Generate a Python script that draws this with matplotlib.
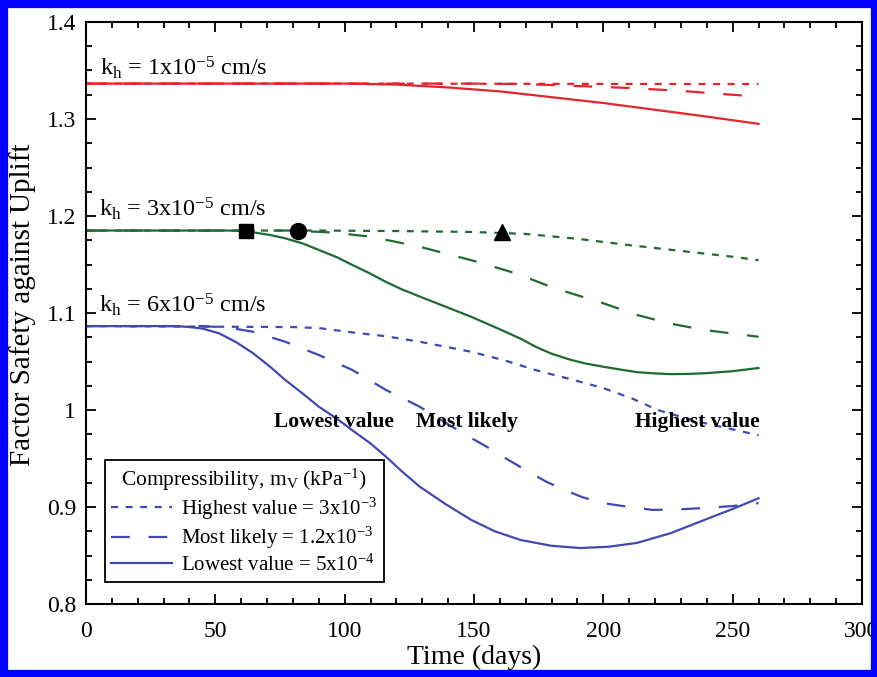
import matplotlib
matplotlib.use("Agg")
import matplotlib.pyplot as plt
from matplotlib.patches import Rectangle
from matplotlib.ticker import MultipleLocator, FuncFormatter

plt.rcParams['font.family'] = ['Liberation Serif', 'DejaVu Serif']
plt.rcParams['mathtext.fontset'] = 'custom'
plt.rcParams['mathtext.rm'] = 'Liberation Serif'
plt.rcParams['mathtext.it'] = 'Liberation Serif:italic'
plt.rcParams['mathtext.bf'] = 'Liberation Serif:bold'
plt.rcParams['lines.scale_dashes'] = False

# ---------------- data ----------------
# kh = 1x10-5 cm/s (red)
red_dot_t = [0, 100, 200, 260]
red_dot_y = [1.3365, 1.3365, 1.3362, 1.336]
red_dash_t = [0, 150, 170, 190, 210, 230, 250, 260]
red_dash_y = [1.3365, 1.3365, 1.336, 1.334, 1.332, 1.329, 1.325, 1.323]
red_solid_t = [0, 100, 120, 140, 160, 180, 200, 220, 240, 260]
red_solid_y = [1.3365, 1.3365, 1.3355, 1.3325, 1.3285, 1.3225, 1.3165, 1.3095, 1.3025, 1.295]

# kh = 3x10-5 cm/s (green)
green_dot_t = [0, 90, 120, 150, 170, 190, 210, 230, 250, 260]
green_dot_y = [1.185, 1.185, 1.1845, 1.1835, 1.1815, 1.1765, 1.170, 1.164, 1.158, 1.1545]
green_dash_t = [0, 80, 95, 110, 129, 151, 166, 181, 200, 213, 226, 239, 260]
green_dash_y = [1.185, 1.185, 1.183, 1.1787, 1.1683, 1.153, 1.141, 1.1257, 1.110, 1.098, 1.089,
                1.0825, 1.0755]
green_solid_t = [0, 55, 60, 65, 71, 77, 84, 90, 97, 103, 110, 116, 122, 129, 139, 149, 155, 161,
                 168, 174, 180, 187, 193, 200, 207, 213, 220, 226, 233, 240, 250, 260]
green_solid_y = [1.185, 1.185, 1.1847, 1.183, 1.1805, 1.177, 1.1715, 1.165, 1.1575, 1.1495, 1.1405,
                 1.132, 1.1245, 1.117, 1.1065, 1.096, 1.089, 1.082, 1.0735, 1.065, 1.058, 1.052,
                 1.048, 1.0446, 1.0415, 1.039, 1.0377, 1.037, 1.0372, 1.038, 1.040, 1.0433]

# kh = 6x10-5 cm/s (blue)
blue_dot_t = [0, 80, 90, 103, 116, 129, 149, 162, 174, 187, 200, 211, 221, 230, 239, 250, 260]
blue_dot_y = [1.0865, 1.0855, 1.0845, 1.080, 1.076, 1.0704, 1.060, 1.051, 1.041, 1.032, 1.0226,
              1.012, 1.0, 0.993, 0.9866, 0.980, 0.974]
blue_dash_t = [0, 45, 55, 64.5, 77, 90, 103, 116, 129, 138, 147, 155, 163, 171, 178, 185, 192, 200,
               210, 219, 229, 239, 250, 260]
blue_dash_y = [1.0865, 1.0865, 1.085, 1.0807, 1.0704, 1.0567, 1.0412, 1.0206, 1.0034, 0.9885, 0.974,
               0.962, 0.949, 0.9364, 0.926, 0.9175, 0.910, 0.904, 0.900, 0.897, 0.8975, 0.899, 0.901,
               0.904]
blue_solid_t = [0, 35, 40, 45, 51.5, 58, 64.5, 71, 77, 84, 90, 97, 103, 110, 116, 122, 129, 139, 149,
                158, 168, 180, 191, 202, 213, 226, 239, 250, 260]
blue_solid_y = [1.0865, 1.0865, 1.0855, 1.084, 1.079, 1.070, 1.0587, 1.045, 1.031, 1.0165, 1.0034,
                0.991, 0.979, 0.9655, 0.9518, 0.937, 0.921, 0.903, 0.8866, 0.875, 0.866, 0.860,
                0.8577, 0.859, 0.863, 0.873, 0.8866, 0.898, 0.909]

# markers on green curves
marker_t = [62, 82, 161]
marker_y = [1.185, 1.185, 1.183]
marker_shapes = ['s', 'o', '^']

kh_labels = ["k$_\\mathrm{h}$ = 1x10$^\\mathrm{-5}$ cm/s",
             "k$_\\mathrm{h}$ = 3x10$^\\mathrm{-5}$ cm/s",
             "k$_\\mathrm{h}$ = 6x10$^\\mathrm{-5}$ cm/s"]
kh_label_pos = [(5.4, 1.345), (5.0, 1.1993), (5.0, 1.1013)]

curve_labels = ["Lowest value", "Most likely", "Highest value"]
curve_label_x = [72.7, 127.6, 212.2]
curve_label_y = 0.9828

legend_title = "Compressibility, m$_\\mathrm{V}$ (kPa$^\\mathrm{-1}$)"
legend_labels = ["Highest value = 3x10$^\\mathrm{-3}$",
                 "Most likely = 1.2x10$^\\mathrm{-3}$",
                 "Lowest value = 5x10$^\\mathrm{-4}$"]

# ---------------- styles ----------------
RED = '#e3242b'
GREEN = '#1f6a30'
BLUE = '#4248b3'
LW = 1.6
DOT = (0, (5.0, 5.5))
DASH = (0, (13.5, 13.5))

fig = plt.figure(figsize=(8.78, 6.77), dpi=100)
ax = fig.add_axes([86 / 878, (677 - 604) / 677, 776 / 878, 582 / 677])

ax.plot(red_dot_t, red_dot_y, color=RED, lw=LW, linestyle=DOT)
ax.plot(red_dash_t, red_dash_y, color=RED, lw=LW, linestyle=DASH)
ax.plot(red_solid_t, red_solid_y, color=RED, lw=LW)

ax.plot(green_dot_t, green_dot_y, color=GREEN, lw=LW, linestyle=DOT)
ax.plot(green_dash_t, green_dash_y, color=GREEN, lw=LW, linestyle=DASH)
ax.plot(green_solid_t, green_solid_y, color=GREEN, lw=LW)

h1, = ax.plot(blue_dot_t, blue_dot_y, color=BLUE, lw=LW, linestyle=DOT)
h2, = ax.plot(blue_dash_t, blue_dash_y, color=BLUE, lw=LW, linestyle=DASH)
h3, = ax.plot(blue_solid_t, blue_solid_y, color=BLUE, lw=LW)

for t, y, m in zip(marker_t, marker_y, marker_shapes):
    ax.plot([t], [y], marker=m, color='black', markersize=11.5 if m != 's' else 10.5,
            linestyle='none', zorder=5)

for lab, (x, y) in zip(kh_labels, kh_label_pos):
    ax.text(x, y, lab, fontsize=17.5, va='baseline', ha='left')

for lab, x in zip(curve_labels, curve_label_x):
    ax.text(x, curve_label_y, lab, fontsize=15.5, fontweight='bold', va='baseline', ha='left')

leg = ax.legend([h1, h2, h3], legend_labels, title=legend_title, loc='lower left',
                bbox_to_anchor=(0.0245, 0.038), borderaxespad=0, fontsize=15,
                title_fontsize=15.5, fancybox=False, framealpha=1, edgecolor='black',
                handlelength=2.9, labelspacing=0.15, handletextpad=0.45, borderpad=0.3)
leg.get_frame().set_linewidth(1.3)

ax.set_xlim(0, 300)
ax.set_ylim(0.8, 1.4)
ax.xaxis.set_major_locator(MultipleLocator(50))
ax.xaxis.set_minor_locator(MultipleLocator(10))
ax.yaxis.set_major_locator(MultipleLocator(0.1))
ax.yaxis.set_minor_locator(MultipleLocator(0.025))
ax.yaxis.set_major_formatter(FuncFormatter(lambda v, p: f"{v:g}"))
ax.tick_params(which='both', direction='in', top=True, right=True, labelsize=17, width=1.3)
ax.tick_params(which='major', length=7)
ax.tick_params(which='minor', length=4)
ax.tick_params(axis='x', which='major', pad=12)
ax.tick_params(axis='y', which='major', pad=7)
for s in ax.spines.values():
    s.set_linewidth(1.5)

ax.set_xlabel("Time (days)", fontsize=20, labelpad=2)
ax.set_ylabel("Factor Safety against Uplift", fontsize=21)
ax.yaxis.set_label_coords(-0.064, 0.514)

fig.patches.append(Rectangle((0, 0), 1, 1, transform=fig.transFigure, fill=False,
                             edgecolor='#0000ff', linewidth=11))

fig.savefig("out.png", dpi=100)
